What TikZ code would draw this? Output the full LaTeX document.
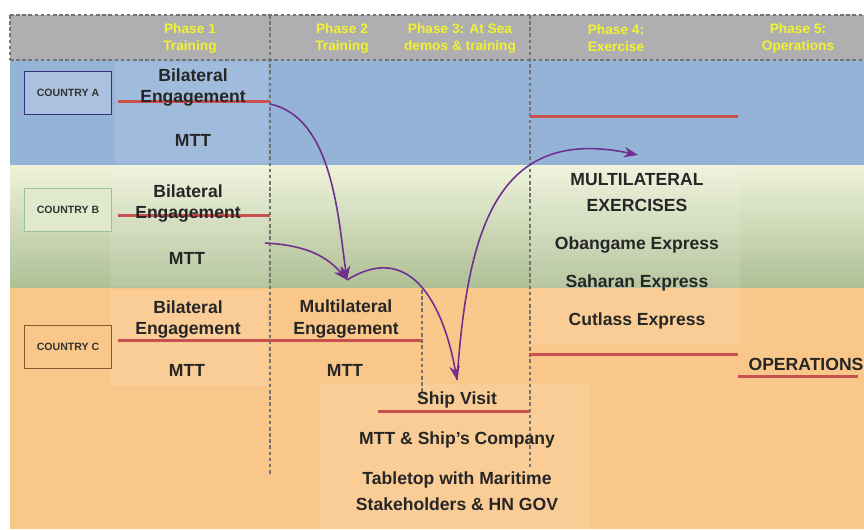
\documentclass[tikz,border=0pt]{standalone}
\usepackage{fontspec}
\setmainfont{Liberation Sans}
\usepackage{tikz}
\usetikzlibrary{arrows.meta}
\definecolor{hdrgray}{HTML}{AFAFB2}
\definecolor{bandblue}{HTML}{95B3D7}
\definecolor{greentop}{HTML}{EEF3DA}
\definecolor{greenbot}{HTML}{AEBF95}
\definecolor{bandorange}{HTML}{FAC78A}
\definecolor{barred}{HTML}{C8504F}
\definecolor{flowpurple}{HTML}{6E2F8F}
\definecolor{tippurple}{HTML}{8E2A96}
\definecolor{phaseyellow}{HTML}{F2F230}

\begin{document}
\begin{tikzpicture}[x=0.02cm, y=-0.02cm,
	lbl/.style={font=\bfseries\fontsize{10}{12}\selectfont, text=black!85, inner sep=0pt},
	phase/.style={font=\bfseries\fontsize{7.8}{9.7}\selectfont, text=phaseyellow, align=center, inner sep=0pt},
	country/.style={draw, line width=0.8pt, minimum width=1.74cm, minimum height=0.86cm, inner sep=0pt, font=\bfseries\fontsize{6}{7}\selectfont, text=black!80},
	bar/.style={barred, line width=1.7pt},
	divider/.style={black!55, line width=0.6pt, dash pattern=on 2pt off 1.5pt},
	flow/.style={flowpurple, line width=0.9pt, -{Stealth[length=8pt, width=6pt, fill=tippurple]}},
	panel/.style={white, opacity=0.11}]
		\useasboundingbox (0,0) rectangle (864,529);

		% bands
		\fill[hdrgray] (10,15) rectangle (864,60);
		\fill[bandblue] (10,60) rectangle (864,165);
		\shade[top color=greentop, bottom color=greenbot] (10,165) rectangle (864,288);
		\fill[bandorange] (10,288) rectangle (864,529);

		\fill[panel] (115,62) rectangle (268,163);
		\fill[panel] (110,166) rectangle (268,287);
		\fill[panel] (110,290) rectangle (267,386);
		\fill[panel] (530,166) rectangle (740,345);
		\fill[panel] (320,384) rectangle (590,529);

		\draw[divider] (10,15) -- (864,15)
		(10,60) -- (864,60)
		(10,15) -- (10,60)
		(270,15) -- (270,476)
		(422,290) -- (422,400)
		(530,15) -- (530,467);

		% phases
		\path (190,38) node[phase] (ph1) {Phase 1\\Training}
		(342,38) node[phase] (ph2) {Phase 2\\Training}
		(460,38) node[phase] (ph3) {Phase 3: At Sea\\demos \& training}
		(616,38) node[phase] (ph4) {Phase 4:\\Exercise}
		(798,38) node[phase] (ph5) {Phase 5:\\Operations};

		% countries
		\node[country, draw=blue!35!black!80, fill=bandblue!80!white] (ctrya) at (68,93) {COUNTRY A};
		\node[country, draw=black!60!green!40, fill=greentop!80!greenbot] (ctryb) at (68,210) {COUNTRY B};
		\node[country, draw=brown!70!black, fill=bandorange] (ctryc) at (68,347) {COUNTRY C};

		% timeline bars
		\coordinate (aS) at (118,101);
		\coordinate (aE) at (270,101);
		\coordinate (bS) at (118,215);
		\coordinate (bE) at (270,215);
		\coordinate (cS) at (118,340);
		\coordinate (cE) at (422,340);
		\coordinate (sS) at (378,411);
		\coordinate (sE) at (530,411);
		\coordinate (eS) at (530,116);
		\coordinate (eE) at (738,116);
		\coordinate (oS) at (530,354);
		\coordinate (oE) at (738,354);
		\coordinate (opS) at (738,376);
		\coordinate (opE) at (858,376);
		\draw[bar] (aS) -- (aE)
		(bS) -- (bE)
		(cS) -- (cE)
		(sS) -- (sE)
		(eS) -- (eE)
		(oS) -- (oE)
		(opS) -- (opE);

		% texts
		\path (193,75) node[lbl] (bila) {Bilateral}
		(193,98) node[lbl] (enga) {Engagement}
		(193,140) node[lbl] (mtta) {MTT}
		(188,191) node[lbl] (bilb) {Bilateral}
		(188,214) node[lbl] (engb) {Engagement}
		(187,258) node[lbl] (mttb) {MTT}
		(188,307) node[lbl] (bilc) {Bilateral}
		(188,330) node[lbl] (engc) {Engagement}
		(187,370) node[lbl] (mttc) {MTT}
		(346,306) node[lbl] (mule) {Multilateral}
		(346,330) node[lbl] (mulg) {Engagement}
		(345,370) node[lbl] (mttm) {MTT}
		(457,400) node[lbl] (ship) {Ship Visit}
		(457,440) node[lbl] (shco) {MTT \& Ship's Company}
		(457,480) node[lbl] (tab1) {Tabletop with Maritime}
		(457,504) node[lbl] (tab2) {Stakeholders \& HN GOV}
		(637,180) node[lbl] (mlex) {MULTILATERAL}
		(637,205) node[lbl] (exer) {EXERCISES}
		(637,245) node[lbl] (oban) {Obangame Express}
		(637,283) node[lbl] (saha) {Saharan Express}
		(637,321) node[lbl] (cutl) {Cutlass Express}
		(806,364) node[lbl] (oper) {OPERATIONS};

		% flows
		\coordinate (aF) at (270,104);
		\coordinate (bF) at (265,243);
		\coordinate (mrg) at (347,280);
		\coordinate (shp) at (457,380);
		\coordinate (exc) at (638,155);
		\draw[flow] (aF) to[out=-12, in=98, looseness=0.85] (mrg);
		\draw[flow] (bF) to[out=-3, in=130] (mrg);
		\draw[flow] (mrg) to[out=32, in=100, looseness=1.3] (shp);
		\draw[flow] (shp) to[out=86, in=168, looseness=1.3] (exc);

	\end{tikzpicture}
\end{document}
